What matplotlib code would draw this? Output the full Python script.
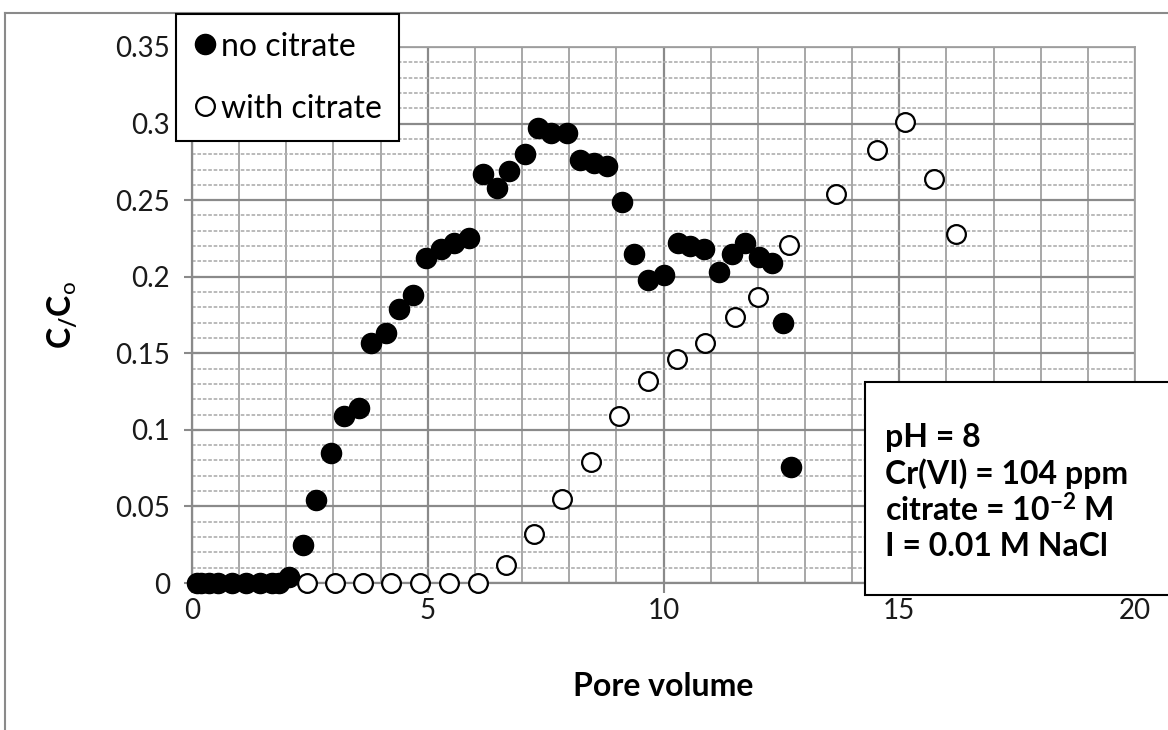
import matplotlib
matplotlib.use("Agg")
import matplotlib.pyplot as plt
import matplotlib.ticker as ticker
from matplotlib.lines import Line2D
from matplotlib.patches import Rectangle

plt.rcParams["font.family"] = ["Lato", "DejaVu Sans"]
plt.rcParams["mathtext.fontset"] = "custom"
plt.rcParams["mathtext.rm"] = "Lato"
plt.rcParams["mathtext.bf"] = "Lato:bold"
plt.rcParams["mathtext.default"] = "regular"

# breakthrough data, no citrate
pv_no_citrate = [0.1, 0.2, 0.35, 0.55, 0.85, 1.15, 1.45, 1.7, 1.85, 2.05,
                 2.36, 2.64, 2.94, 3.22, 3.54, 3.79, 4.12, 4.39, 4.69, 4.97,
                 5.28, 5.56, 5.88, 6.17, 6.47, 6.72, 7.06, 7.34, 7.62, 7.96,
                 8.23, 8.53, 8.81, 9.11, 9.38, 9.68, 10.0, 10.30, 10.57, 10.85,
                 11.17, 11.45, 11.72, 12.02, 12.30, 12.53, 12.70]
c_no_citrate = [0, 0, 0, 0, 0, 0, 0, 0, 0, 0.004,
                0.025, 0.054, 0.085, 0.109, 0.114, 0.157, 0.163, 0.179, 0.188, 0.212,
                0.218, 0.222, 0.225, 0.267, 0.258, 0.269, 0.280, 0.297, 0.294, 0.294,
                0.276, 0.274, 0.272, 0.249, 0.215, 0.198, 0.201, 0.222, 0.220, 0.218,
                0.203, 0.215, 0.222, 0.213, 0.209, 0.170, 0.076]

# breakthrough data, with citrate
pv_citrate = [2.44, 3.03, 3.63, 4.22, 4.83, 5.45, 6.07, 6.65, 7.25, 7.85,
              8.47, 9.06, 9.68, 10.28, 10.89, 11.51, 12.0, 12.66, 13.65, 14.53,
              15.13, 15.74, 16.2]
c_citrate = [0, 0, 0, 0, 0, 0, 0, 0.012, 0.032, 0.055,
             0.079, 0.109, 0.132, 0.146, 0.157, 0.174, 0.187, 0.221, 0.254, 0.283,
             0.301, 0.264, 0.228]

conditions = ["pH = 8", "Cr(VI) = 104 ppm", r"citrate = 10$^{\mathbf{-2}}$ M", "I = 0.01 M NaCl"]

W, H = 1168, 730
fig = plt.figure(figsize=(W / 100, H / 100), dpi=100)

# outer chart frame (runs off the right and bottom edges)
fig.add_artist(Line2D([5 / W, 1.0], [1 - 13 / H, 1 - 13 / H], color="#8a8a8a", lw=1.5))
fig.add_artist(Line2D([5 / W, 5 / W], [0, 1 - 13 / H], color="#8a8a8a", lw=1.5))

ax = fig.add_axes([192 / W, 1 - 583 / H, (1135 - 192) / W, (583 - 47) / H])
ax.set_xlim(0, 20)
ax.set_ylim(0, 0.35)
ax.xaxis.set_major_locator(ticker.MultipleLocator(5))
ax.xaxis.set_minor_locator(ticker.MultipleLocator(1))
ax.yaxis.set_major_locator(ticker.MultipleLocator(0.05))
ax.yaxis.set_minor_locator(ticker.MultipleLocator(0.01))
ax.yaxis.set_major_formatter(ticker.FuncFormatter(lambda v, p: "0" if v == 0 else ("%.2f" % v).rstrip("0")))

ax.grid(which="minor", axis="y", color="#b4b4b4", lw=1.3, ls=(0, (2, 1)))
ax.grid(which="major", axis="y", color="#8a8a8a", lw=1.6)
ax.grid(which="minor", axis="x", color="#a0a0a0", lw=1.3)
ax.grid(which="major", axis="x", color="#8a8a8a", lw=1.6)
ax.set_axisbelow(True)

for side in ["left", "bottom"]:
    ax.spines[side].set_color("#8a8a8a")
    ax.spines[side].set_linewidth(1.6)
for side in ["top", "right"]:
    ax.spines[side].set_color("#a0a0a0")
    ax.spines[side].set_linewidth(1.3)

ax.tick_params(axis="y", which="major", direction="inout", length=12, width=1.5,
               color="#8a8a8a", labelsize=20, labelcolor="#1a1a1a", pad=10)
ax.tick_params(axis="x", which="major", direction="out", length=7, width=1.5,
               color="#8a8a8a", labelsize=20, labelcolor="#1a1a1a", pad=4)
ax.tick_params(which="minor", length=0)

ax.plot(pv_no_citrate, c_no_citrate, "o", color="black", ms=14.5, ls="none",
        label="no citrate", clip_on=False, zorder=3)
ax.plot(pv_citrate, c_citrate, "o", mfc="white", mec="black", mew=1.6, ms=13.5,
        ls="none", label="with citrate", clip_on=False, zorder=3)

ax.set_xlabel("Pore volume", fontsize=23, fontweight="bold", labelpad=34)
ax.set_ylabel(r"C$_{/}$C$_{\mathrm{o}}$", fontsize=23, fontweight="bold", labelpad=26)

leg = fig.legend(loc="upper left", bbox_to_anchor=(176 / W, 1 - 14 / H),
                 frameon=True, fancybox=False, framealpha=1, edgecolor="black",
                 fontsize=23, markerscale=1.0, handlelength=0.7, handletextpad=0.15,
                 labelspacing=1.0, borderpad=0.55, borderaxespad=0)
leg.get_frame().set_linewidth(1.5)
leg.set_zorder(5)

# experimental conditions box
fig.add_artist(Rectangle((865 / W, 1 - 595 / H), 400 / W, (595 - 382) / H,
                         transform=fig.transFigure, facecolor="white",
                         edgecolor="black", lw=1.5, zorder=5))
for i, line in enumerate(conditions):
    fig.text(885 / W, 1 - (437 + i * 36.5) / H, line, fontsize=23, fontweight="bold",
             va="center", ha="left", zorder=6)

fig.savefig("out.png", dpi=100)
